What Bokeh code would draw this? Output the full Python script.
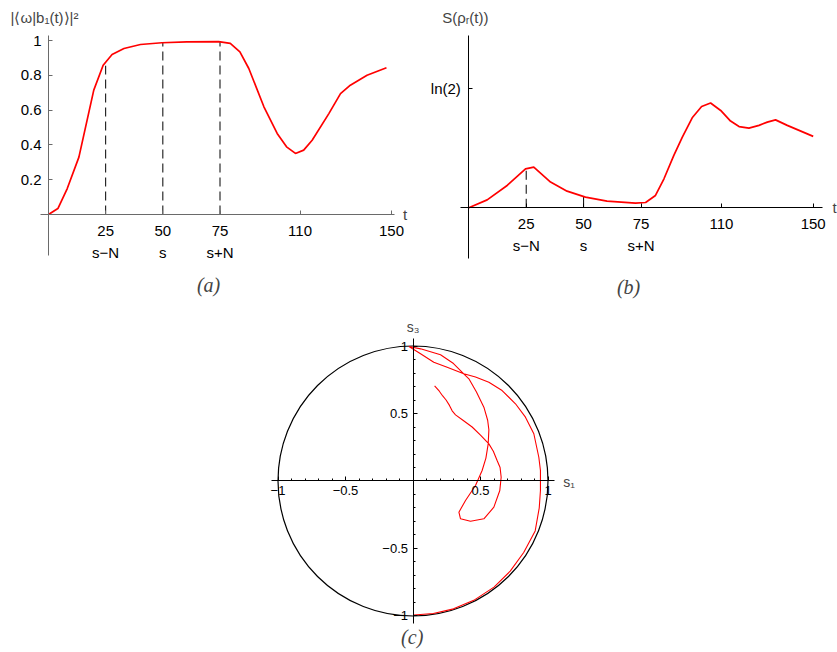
from bokeh.plotting import figure
from bokeh.models import LinearAxis, FixedTicker, Label, Range1d, Spacer
from bokeh.layouts import column, row
from bokeh.embed import file_html
from bokeh.resources import INLINE

# ---------------- data ----------------
# panel (a): overlap |<w|b1(t)>|^2
t_a = [0, 4.1, 8.2, 13.3, 19.8, 23.9, 27.8, 33, 40.2, 49.6, 60.5, 74.4, 79.5, 83.7,
       87.6, 94.2, 100, 104.1, 108, 111.6, 115.3, 122.6, 127.7, 132, 139.3, 147.8]
v_a = [0, 0.034, 0.149, 0.33, 0.715, 0.858, 0.92, 0.954, 0.977, 0.987, 0.992, 0.994, 0.983, 0.935,
       0.839, 0.619, 0.466, 0.389, 0.351, 0.37, 0.427, 0.58, 0.695, 0.743, 0.8, 0.843]
marks_t = [25, 50, 75]
marks_a = [0.855, 0.988, 0.995]

# panel (b): entropy S(rho_r(t))
LN2 = 0.6931
t_b = [0, 8, 16.7, 24.7, 28.3, 35.6, 42.8, 50.8, 60.2, 72.6, 77, 81.3, 85, 89.3, 93, 97.3,
       101.4, 105.3, 109.7, 114, 117.7, 122, 126.4, 130, 133.6, 138.7, 150]
v_b = [0, 0.046, 0.130, 0.227, 0.237, 0.150, 0.097, 0.062, 0.039, 0.027, 0.031, 0.072, 0.169,
       0.305, 0.412, 0.524, 0.590, 0.610, 0.567, 0.505, 0.473, 0.464, 0.480, 0.499, 0.512, 0.480, 0.416]
mark_b_dash_t = [25]
mark_b_dash_v = [0.228]
mark_b_solid_t = [50]
mark_b_solid_v = [0.064]

xtick_vals = [25, 50, 75, 110, 150]
xtick_text = ["25\ns\u2212N", "50\ns", "75\ns+N", "110", "150"]
ytick_a = [0.2, 0.4, 0.6, 0.8, 1.0]
ytick_a_text = ["0.2", "0.4", "0.6", "0.8", "1"]
ytick_b = [LN2]
ytick_b_text = ["ln(2)"]

# panel (c): Bloch trajectory (s1, s3)
s1_c = [0.007, 0.15, 0.30, 0.45, 0.60, 0.72, 0.82, 0.905, 0.935, 0.944, 0.944, 0.932, 0.895,
        0.833, 0.759, 0.66, 0.562, 0.463, 0.376, 0.253, 0.154, 0.056, -0.03,
        0.056, 0.204, 0.30, 0.376, 0.414, 0.47, 0.525, 0.553, 0.562, 0.557, 0.54, 0.512,
        0.463, 0.389, 0.34, 0.352, 0.426, 0.525, 0.599, 0.643, 0.653, 0.645, 0.623, 0.595,
        0.562, 0.50, 0.438, 0.37, 0.315, 0.29, 0.27, 0.245, 0.22, 0.195, 0.16]
s3_c = [-0.993, -0.982, -0.947, -0.884, -0.786, -0.668, -0.53, -0.37, -0.2, -0.07, 0.078, 0.176, 0.35,
        0.473, 0.572, 0.67, 0.732, 0.77, 0.794, 0.843, 0.88, 0.942, 0.996,
        0.979, 0.935, 0.87, 0.794, 0.757, 0.66, 0.547, 0.45, 0.38, 0.275, 0.17, 0.078,
        -0.033, -0.144, -0.231, -0.28, -0.298, -0.28, -0.194, -0.07, 0.028, 0.10, 0.152, 0.22,
        0.275, 0.34, 0.40, 0.45, 0.49, 0.52, 0.56, 0.60, 0.63, 0.665, 0.705]
ctick_major = [-1, -0.5, 0.5, 1]
ctick_text = ["\u22121", "\u22120.5", "0.5", "1"]
ctick_minor = [-0.9, -0.8, -0.7, -0.6, -0.4, -0.3, -0.2, -0.1,
               0.1, 0.2, 0.3, 0.4, 0.6, 0.7, 0.8, 0.9]

SANS = "Liberation Sans"
SERIF = "Liberation Serif"
GRAY = "#6a6a6a"


def base(w, h, xr, yr):
    p = figure(width=w, height=h, x_range=Range1d(*xr), y_range=Range1d(*yr),
               x_axis_location=None, y_axis_location=None, toolbar_location=None,
               output_backend="svg", min_border=0, title=None)
    p.outline_line_color = None
    p.grid.visible = False
    p.background_fill_color = "white"
    p.border_fill_color = "white"
    return p


def axis(bounds, ticks, texts, color, size, standoff, minor=None, tin=4, mtin=0):
    ax = LinearAxis(fixed_location=0, bounds=bounds,
                    ticker=FixedTicker(ticks=ticks, minor_ticks=minor or []),
                    major_label_overrides=dict(zip(ticks, texts)),
                    major_tick_in=tin, major_tick_out=0,
                    minor_tick_in=mtin, minor_tick_out=0,
                    major_label_standoff=standoff,
                    axis_line_color=color, axis_line_width=1,
                    major_tick_line_color=color, minor_tick_line_color=color,
                    major_label_text_font=SANS, major_label_text_font_size=size,
                    major_label_text_color="black",
                    major_label_text_line_height=1.3)
    return ax


# ---------------- panel (a) ----------------
pa = base(420, 308, (-20.99, 162.68), (-0.5402, 1.2299))
pa.add_layout(axis((-3.5, 151.5), xtick_vals, xtick_text, GRAY, "15px", 7), "below")
pa.add_layout(axis((-0.236, 1.029), ytick_a, ytick_a_text, GRAY, "15px", 7), "left")
pa.segment(x0=marks_t, y0=[0] * len(marks_t), x1=marks_t, y1=marks_a,
           line_color="black", line_width=1, line_dash="9 5")
pa.line(t_a, v_a, line_color="red", line_width=1.7)
pa.add_layout(Label(x=-16.6, y=1.132, text="|\u27e8\u03c9|b\u2081(t)\u27e9|\u00b2",
                    text_font=SANS, text_font_size="15px", text_align="left",
                    text_baseline="middle"))
pa.add_layout(Label(x=155.0, y=0.0, text="t", text_font=SANS, text_font_size="15px",
                    text_align="left", text_baseline="middle"))
pa.add_layout(Label(x=70, y=-0.408, text="(a)", text_font=SERIF, text_font_style="italic",
                    text_font_size="20px", text_align="center", text_baseline="middle"))

# ---------------- panel (b) ----------------
pb = base(417, 308, (-21.04, 160.58), (-0.5865, 1.2073))
pb.add_layout(axis((-3.6, 153.9), xtick_vals, xtick_text, "black", "15px", 7), "below")
pb.add_layout(axis((-0.295, 1.003), ytick_b, ytick_b_text, "black", "15px", 8), "left")
pb.segment(x0=mark_b_dash_t, y0=[0], x1=mark_b_dash_t, y1=mark_b_dash_v,
           line_color="black", line_width=1, line_dash="9 5")
pb.segment(x0=mark_b_solid_t, y0=[0], x1=mark_b_solid_t, y1=mark_b_solid_v,
           line_color="black", line_width=1)
pb.line(t_b, v_b, line_color="red", line_width=1.7)
pb.add_layout(Label(x=-11.6, y=1.108, text="S(\u03c1\u1d63(t))",
                    text_font=SANS, text_font_size="15px", text_align="left",
                    text_baseline="middle"))
pb.add_layout(Label(x=158.4, y=0.0, text="t", text_font=SANS, text_font_size="15px",
                    text_align="left", text_baseline="middle"))
pb.add_layout(Label(x=69.6, y=-0.464, text="(b)", text_font=SERIF, text_font_style="italic",
                    text_font_size="20px", text_align="center", text_baseline="middle"))

# ---------------- panel (c) ----------------
pc = base(330, 344, (-1.2037, 1.2407), (-1.2704, 1.2778))
pc.add_layout(axis((-1.05, 1.05), ctick_major, ctick_text, "black", "13px", 5,
                   minor=ctick_minor, tin=4, mtin=2), "below")
pc.add_layout(axis((-1.055, 1.055), ctick_major, ctick_text, "black", "13px", 5,
                   minor=ctick_minor, tin=4, mtin=2), "left")
pc.circle(x=[0], y=[0], radius=1, fill_color=None, line_color="black", line_width=1.2)
pc.line(s1_c, s3_c, line_color="red", line_width=1.1)
pc.add_layout(Label(x=1.112, y=-0.01, text="s\u2081", text_font=SANS, text_font_size="14px",
                    text_align="left", text_baseline="middle"))
pc.add_layout(Label(x=0.0, y=1.144, text="s\u2083", text_font=SANS, text_font_size="14px",
                    text_align="center", text_baseline="middle"))
pc.add_layout(Label(x=-0.006, y=-1.159, text="(c)", text_font=SERIF, text_font_style="italic",
                    text_font_size="20px", text_align="center", text_baseline="middle"))

layout = column(row(pa, pb), row(Spacer(width=250, height=344), pc))

open("out.html", "w").write(file_html(layout, INLINE))
